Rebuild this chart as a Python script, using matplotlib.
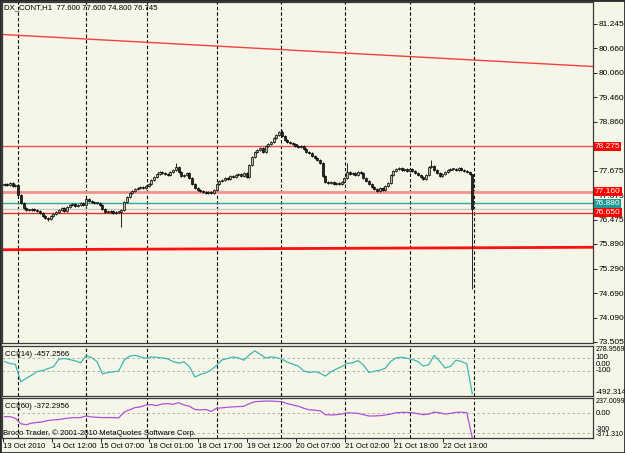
import numpy as np
import matplotlib
matplotlib.use('Agg')
import matplotlib.pyplot as plt
import matplotlib.transforms as mtransforms
from matplotlib.patches import Rectangle

plt.rcParams['font.family'] = ['Liberation Sans', 'DejaVu Sans']

# ---- data --------------------------------------------------------------
symbol = 'DX_CONT,H1'
last_ohlc = (77.600, 77.600, 74.800, 76.745)

first_open = 77.33
closes = [
    77.35, 77.33, 77.38, 77.30, 77.33, 77.08, 76.89, 76.77, 76.72, 76.72,
    76.74, 76.72, 76.69, 76.65, 76.57, 76.52, 76.50, 76.57, 76.62, 76.67,
    76.72, 76.77, 76.69, 76.79, 76.84, 76.86, 76.82, 76.84, 76.89, 76.84,
    76.99, 76.94, 76.91, 76.89, 76.89, 76.84, 76.74, 76.67, 76.67, 76.69,
    76.65, 76.67, 76.67, 76.72, 76.91, 77.03, 77.13, 77.18, 77.23, 77.25,
    77.28, 77.25, 77.30, 77.35, 77.45, 77.52, 77.59, 77.64, 77.62, 77.59,
    77.57, 77.64, 77.69, 77.76, 77.64, 77.55, 77.57, 77.62, 77.50, 77.35,
    77.25, 77.20, 77.18, 77.16, 77.13, 77.16, 77.13, 77.20, 77.35, 77.42,
    77.45, 77.50, 77.47, 77.55, 77.52, 77.57, 77.59, 77.55, 77.62, 77.52,
    77.81, 78.01, 78.13, 78.18, 78.23, 78.13, 78.28, 78.32, 78.37, 78.47,
    78.54, 78.62, 78.52, 78.42, 78.37, 78.35, 78.32, 78.28, 78.25, 78.28,
    78.20, 78.13, 78.11, 78.03, 77.98, 77.94, 77.86, 77.55, 77.40, 77.38,
    77.40, 77.35, 77.38, 77.35, 77.40, 77.50, 77.64, 77.59, 77.62, 77.57,
    77.64, 77.62, 77.50, 77.42, 77.35, 77.28, 77.23, 77.18, 77.25, 77.20,
    77.30, 77.38, 77.57, 77.67, 77.72, 77.74, 77.69, 77.72, 77.67, 77.72,
    77.67, 77.62, 77.57, 77.52, 77.47, 77.57, 77.76, 77.79, 77.69, 77.62,
    77.55, 77.59, 77.64, 77.69, 77.72, 77.72, 77.69, 77.74, 77.69, 77.67,
    77.64, 77.60, 76.745,
]
# bars with long shadows (bar index -> price)
long_highs = {30: 77.03, 63: 77.86, 102: 78.67, 126: 77.86, 157: 77.93, 172: 77.60}
long_lows = {16: 76.45, 43: 76.30, 172: 74.80}

# CCI values, one reading every second bar
cci14 = [
    38, 10, -5, -275, -220, -170, -115, -100, -70, -40,
    75, 85, 70, 50, 20, 130, 100, 40, -150, -130,
    -120, -105, 60, 125, 135, 110, 90, 110, 105, 95,
    80, 40, 15, 35, -40, -200, -160, -135, -90, -20,
    65, 85, 110, 95, 60, 140, 205, 150, 95, 110,
    100, 75, 30, 0, -30, -105, -130, -115, -140, -185,
    -120, -75, -40, 10, 20, 55, -15, -130, -110, -95,
    -65, 40, 95, 105, 90, 70, 40, -30, -10, 135,
    45, -60, -35, 60, 40, 5, -457.2566,
]
cci60 = [
    -50, -50, -75, -160, -175, -150, -140, -130, -110, -100,
    -95, -80, -70, -65, -65, -40, -55, -60, -65, -65,
    -65, -70, 20, 55, 90, 100, 130, 135, 120, 145,
    150, 140, 165, 130, 110, 60, 55, 60, 30, 80,
    85, 95, 100, 105, 110, 150, 180, 185, 190, 190,
    185, 180, 150, 130, 110, 80, 55, 50, 40, -20,
    -25, -20, -10, 10, 5, 0, -20, -40, -40, -35,
    -25, -10, 10, 15, 15, 10, -5, -20, -10, 20,
    10, -10, 0, 15, 20, 10, -372.2956,
]

date_labels = ['13 Oct 2010', '14 Oct 12:00', '15 Oct 07:00', '18 Oct 01:00',
               '18 Oct 17:00', '19 Oct 12:00', '20 Oct 07:00', '21 Oct 02:00',
               '21 Oct 18:00', '22 Oct 13:00']
price_ticks = [81.245, 80.660, 80.060, 79.460, 78.860, 78.275, 77.675,
               77.075, 76.475, 75.890, 75.290, 74.690, 74.090, 73.505]
day_separators = [5, 30, 52.5, 78, 101.7, 125.2, 149, 172.6]

# horizontal lines: price, colour, width, label box colour
hlines = [
    (78.275, '#f05050', 1.0, '#ff0000'),
    (77.160, '#f49090', 2.0, '#ff0000'),
    (76.880, '#30a8a0', 1.0, '#1f9a94'),
    (76.745, '#c8c8c0', 1.0, None),
    (76.650, '#e83030', 1.0, '#ff0000'),
]
trend_lines = [
    ((-0.92, 80.99), (216.4, 80.21), '#f04040', 1.0),
    ((-0.92, 75.75), (216.4, 75.81), '#ff1010', 2.0),
]
cci14_range = (-492.314, 278.9569)
cci60_range = (-371.310, 237.0099)

# ---- figure -------------------------------------------------------------
W, H = 625, 453
BG = '#f6f6e8'
BULL = '#b4c0a0'
BEAR = '#262626'

fig = plt.figure(figsize=(W / 100, H / 100), dpi=100)
fig.patch.set_facecolor(BG)


def px_axes(x0, y0, x1, y1):
    a = fig.add_axes([x0 / W, 1 - y1 / H, (x1 - x0) / W, (y1 - y0) / H])
    a.set_facecolor(BG)
    for s in a.spines.values():
        s.set_color('#3a3a3a')
        s.set_linewidth(0.9)
    a.set_xlim(-0.92, 216.4)
    a.tick_params(left=False, labelleft=False, bottom=False, labelbottom=False)
    for b in day_separators:
        a.axvline(b, color='black', lw=0.8, ls=(0, (3, 2)), zorder=1)
    return a


ax = px_axes(2, 2, 593, 343)
ax1 = px_axes(2, 346, 593, 396)
ax2 = px_axes(2, 398, 593, 437.5)

# price panel
closes = np.array(closes)
n = len(closes)
x = np.arange(n)
opens = np.r_[first_open, closes[:-1]]
highs = np.maximum(opens, closes) + 0.025
lows = np.minimum(opens, closes) - 0.025
for i, v in long_highs.items():
    highs[i] = v
for i, v in long_lows.items():
    lows[i] = v

ax.vlines(x, lows, highs, color='black', lw=0.6, zorder=3)
up = closes >= opens
body = np.maximum(np.abs(closes - opens), 0.012)
ax.bar(x[up], body[up], bottom=opens[up], width=0.75, color=BULL,
       edgecolor='black', linewidth=0.5, zorder=4)
ax.bar(x[~up], body[~up], bottom=closes[~up], width=0.75, color=BEAR,
       edgecolor='black', linewidth=0.5, zorder=4)

for (x0, y0), (x1, y1), c, lw in trend_lines:
    ax.plot([x0, x1], [y0, y1], color=c, lw=lw, zorder=2)

tr = mtransforms.blended_transform_factory(ax.transAxes, ax.transData)
boxed = []
for price, c, lw, box in hlines:
    ax.axhline(price, color=c, lw=lw, zorder=2)
    if box:
        boxed.append(price)
        ax.text(1.003, price, '%.3f' % price, transform=tr, ha='left', va='center',
                fontsize=6, color='white', zorder=20, clip_on=False,
                bbox=dict(boxstyle='square,pad=0.12', fc=box, ec='none'))

ax.set_ylim(73.48, 81.78)
ax.yaxis.tick_right()
ax.set_yticks(price_ticks)
# a scale label sitting under a boxed label of the same value is not shown
ax.set_yticklabels(['' if p in boxed else '%.3f' % p for p in price_ticks])
ax.tick_params(axis='y', right=True, labelright=True, length=3, width=0.6,
               labelsize=6, pad=1, colors='black')

fig.text(4 / W, 1 - 8 / H, '%s  %.3f %.3f %.3f %.3f' % ((symbol,) + last_ohlc),
         fontsize=5.6, va='center', ha='left')

# CCI panels
cx = np.arange(0, n, 2)
ax1.plot(cx, cci14, color='#3cb8b0', lw=0.9, zorder=3)
ax1.set_ylim(*cci14_range)
for lv in (100, -100):
    ax1.axhline(lv, color='#a8a8a0', lw=0.6, ls=(0, (3, 3)), zorder=1)
ax2.plot(cx, cci60, color='#b050d8', lw=0.9, zorder=3)
ax2.set_ylim(*cci60_range)
for lv in (0, -300):
    ax2.axhline(lv, color='#a8a8a0', lw=0.6, ls=(0, (3, 3)), zorder=1)


def side_label(a, val, txt, va='center', size=5.6):
    t = mtransforms.blended_transform_factory(a.transAxes, a.transData)
    a.text(1.004, val, txt, transform=t, ha='left', va=va, fontsize=size,
           clip_on=False)


side_label(ax1, cci14_range[1], '%.4f' % cci14_range[1], va='top', size=5.0)
side_label(ax1, 100, '100')
side_label(ax1, 0, '0.00')
side_label(ax1, -100, '-100')
side_label(ax1, cci14_range[0], '%.3f' % cci14_range[0], va='bottom')
side_label(ax2, cci60_range[1], '%.4f' % cci60_range[1], va='top', size=5.0)
side_label(ax2, 0, '0.00')
side_label(ax2, -255, '-300', size=5.0)
side_label(ax2, cci60_range[0], '%.3f' % cci60_range[0], va='bottom', size=5.0)

fig.text(5 / W, 1 - 354 / H, 'CCI(14) %.4f' % cci14[-1], fontsize=5.6, va='center')
fig.text(5 / W, 1 - 406 / H, 'CCI(60) %.4f' % cci60[-1], fontsize=5.6, va='center')
fig.text(3 / W, 1 - 433 / H, 'Broco Trader, \u00a9 2001-2010 MetaQuotes Software Corp.',
         fontsize=5.6, va='center')

# time axis
tick_bars = np.arange(0, n, 18)[:len(date_labels)]
ax2.set_xticks(tick_bars - 0.7)
ax2.set_xticklabels(date_labels, ha='left')
ax2.tick_params(axis='x', bottom=True, labelbottom=True, length=3, width=0.6,
                labelsize=5.6, pad=1)

fig.add_artist(Rectangle((0, 0), 1, 1, transform=fig.transFigure, fill=False,
                         edgecolor='#2a2a2a', lw=2.0))

fig.savefig('out.png', dpi=100, facecolor=BG)
